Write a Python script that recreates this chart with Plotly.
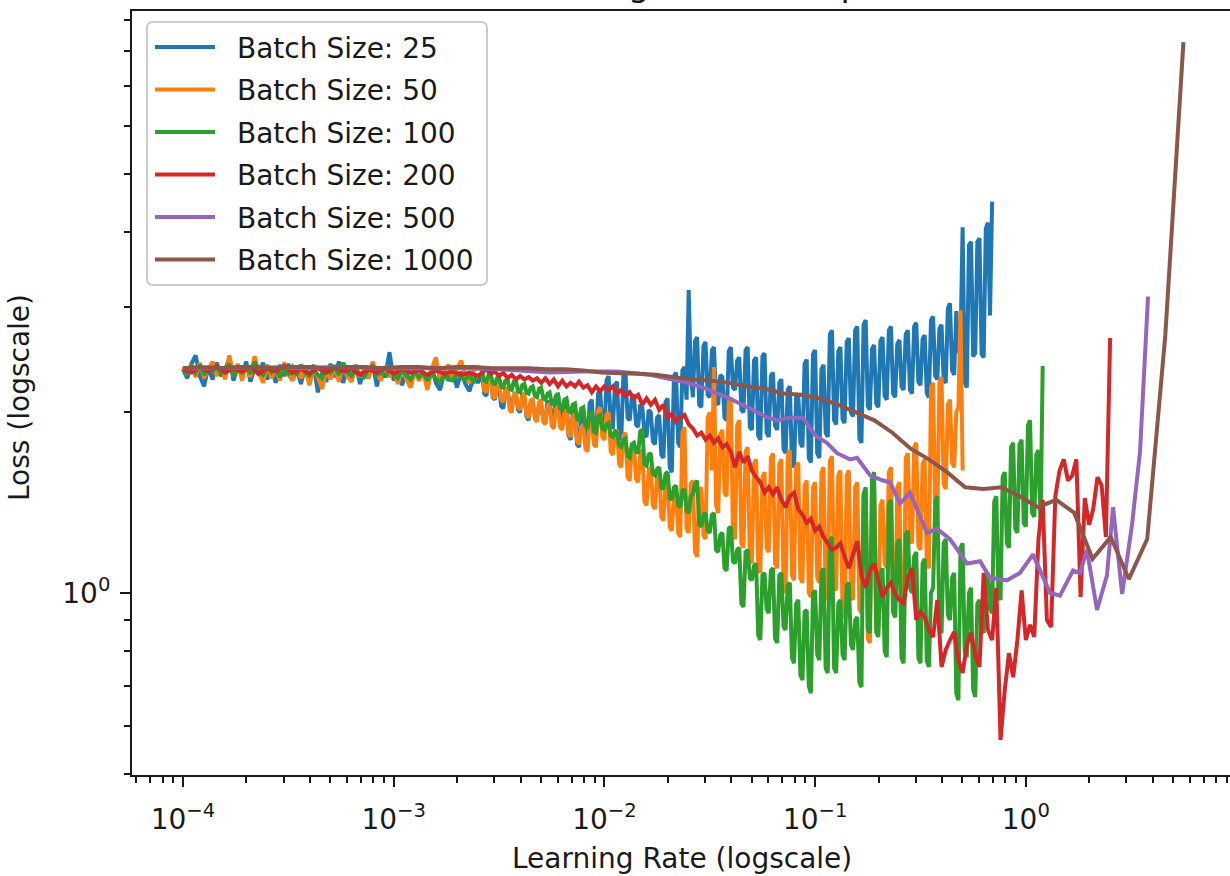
import plotly.graph_objects as go

# ---------------------------------------------------------------------------
# Learning-rate range test: loss recorded while the learning rate is swept
# geometrically, one run per batch size.  Each sample is (log10 lr, loss).
# ---------------------------------------------------------------------------
batch_sizes = [25, 50, 100, 200, 500, 1000]
colors = ["#1f77b4", "#ff7f0e", "#2ca02c", "#d62728", "#9467bd", "#8c564b"]

loss_bs25 = [
    (-4.00, 2.36), (-3.98, 2.28), (-3.96, 2.41), (-3.94, 2.49), (-3.92, 2.30), (-3.90, 2.21), (-3.88, 2.38), (-3.86, 2.27),
    (-3.84, 2.42), (-3.82, 2.30), (-3.80, 2.35), (-3.78, 2.47), (-3.76, 2.26), (-3.74, 2.39), (-3.72, 2.29), (-3.70, 2.43),
    (-3.68, 2.25), (-3.66, 2.37), (-3.64, 2.31), (-3.62, 2.42), (-3.60, 2.27), (-3.58, 2.38), (-3.56, 2.24), (-3.54, 2.40),
    (-3.52, 2.30), (-3.50, 2.41), (-3.48, 2.26), (-3.46, 2.36), (-3.44, 2.23), (-3.42, 2.39), (-3.40, 2.28), (-3.38, 2.40),
    (-3.36, 2.16), (-3.34, 2.33), (-3.32, 2.25), (-3.30, 2.41), (-3.28, 2.29), (-3.26, 2.43), (-3.24, 2.24), (-3.22, 2.37),
    (-3.20, 2.27), (-3.18, 2.40), (-3.16, 2.23), (-3.14, 2.35), (-3.12, 2.28), (-3.10, 2.42), (-3.08, 2.21), (-3.06, 2.36),
    (-3.04, 2.30), (-3.02, 2.52), (-3.00, 2.26), (-2.98, 2.38), (-2.96, 2.22), (-2.94, 2.35), (-2.92, 2.20), (-2.90, 2.37),
    (-2.88, 2.27), (-2.86, 2.34), (-2.84, 2.21), (-2.82, 2.38), (-2.80, 2.24), (-2.78, 2.18), (-2.76, 2.33), (-2.74, 2.26),
    (-2.72, 2.36), (-2.70, 2.20), (-2.68, 2.34), (-2.66, 2.23), (-2.64, 2.17), (-2.62, 2.31), (-2.60, 2.24),
    (-2.58, 2.31), (-2.57, 2.15), (-2.56, 2.13), (-2.55, 2.30), (-2.54, 2.33), (-2.53, 2.12), (-2.52, 2.10), (-2.51, 2.22),
    (-2.50, 2.20), (-2.49, 2.05), (-2.48, 2.03), (-2.47, 2.16), (-2.46, 2.18), (-2.45, 2.07), (-2.44, 2.05), (-2.43, 2.13),
    (-2.42, 2.15), (-2.41, 2.02), (-2.40, 2.00), (-2.39, 2.15), (-2.38, 2.13), (-2.37, 1.97), (-2.36, 1.94), (-2.35, 2.08),
    (-2.34, 2.06), (-2.33, 1.98), (-2.32, 1.96), (-2.31, 2.06), (-2.30, 2.04), (-2.29, 1.95), (-2.28, 1.94), (-2.27, 2.09),
    (-2.26, 2.07), (-2.25, 1.95), (-2.24, 1.96), (-2.23, 2.13), (-2.22, 2.15), (-2.21, 1.93), (-2.20, 1.91), (-2.19, 2.08),
    (-2.18, 2.10), (-2.17, 1.83), (-2.16, 1.80), (-2.15, 2.00), (-2.14, 2.02), (-2.13, 1.77), (-2.12, 1.75), (-2.11, 2.02),
    (-2.10, 2.00), (-2.09, 1.82), (-2.08, 1.80), (-2.07, 2.07), (-2.06, 2.10), (-2.05, 1.84), (-2.04, 1.82), (-2.03, 2.15),
    (-2.02, 2.18), (-2.01, 1.88), (-2.00, 1.86), (-1.99, 2.26), (-1.98, 2.30), (-1.97, 1.90), (-1.96, 1.88), (-1.95, 2.22),
    (-1.94, 2.25), (-1.93, 1.83), (-1.92, 1.80), (-1.91, 2.30), (-1.90, 2.33), (-1.89, 1.96), (-1.88, 1.94), (-1.87, 2.12),
    (-1.86, 2.14), (-1.85, 1.91), (-1.84, 1.89), (-1.83, 2.06), (-1.82, 2.04), (-1.81, 1.84), (-1.80, 1.82), (-1.79, 2.02),
    (-1.78, 2.00), (-1.77, 1.79), (-1.76, 1.77), (-1.75, 1.96), (-1.74, 1.98), (-1.73, 1.70), (-1.72, 1.68), (-1.71, 2.08),
    (-1.70, 2.11), (-1.69, 1.62), (-1.68, 1.59), (-1.67, 2.30), (-1.66, 2.33), (-1.65, 1.78), (-1.64, 1.75), (-1.63, 2.35),
    (-1.62, 2.38), (-1.61, 2.10), (-1.60, 3.20), (-1.59, 2.30), (-1.58, 2.12), (-1.57, 2.63), (-1.56, 2.67), (-1.55, 2.06),
    (-1.54, 2.04), (-1.53, 2.58), (-1.52, 2.62), (-1.51, 2.14), (-1.50, 2.12), (-1.49, 2.54), (-1.48, 2.57), (-1.47, 2.08),
    (-1.46, 2.06), (-1.45, 2.31), (-1.44, 2.29), (-1.43, 1.96), (-1.42, 1.94), (-1.41, 2.53), (-1.40, 2.57), (-1.39, 2.20),
    (-1.38, 2.18), (-1.37, 2.44), (-1.36, 2.47), (-1.35, 2.02), (-1.34, 2.00), (-1.33, 2.54), (-1.32, 2.57), (-1.31, 1.89),
    (-1.30, 1.87), (-1.29, 2.44), (-1.28, 2.47), (-1.27, 1.83), (-1.26, 1.80), (-1.25, 2.48), (-1.24, 2.51), (-1.23, 1.85),
    (-1.22, 1.82), (-1.21, 2.30), (-1.20, 2.33), (-1.19, 1.90), (-1.18, 1.87), (-1.17, 2.24), (-1.16, 2.27), (-1.15, 1.74),
    (-1.14, 1.71), (-1.13, 2.18), (-1.12, 2.21), (-1.11, 1.65), (-1.10, 1.62), (-1.09, 2.12), (-1.08, 2.15), (-1.07, 1.78),
    (-1.06, 1.75), (-1.05, 2.41), (-1.04, 2.45), (-1.03, 1.68), (-1.02, 1.65), (-1.01, 2.50), (-1.00, 2.54), (-0.99, 1.71),
    (-0.98, 1.68), (-0.97, 2.36), (-0.96, 2.40), (-0.95, 1.85), (-0.94, 1.82), (-0.93, 2.70), (-0.92, 2.74), (-0.91, 1.94),
    (-0.90, 1.91), (-0.89, 2.53), (-0.88, 2.57), (-0.87, 1.95), (-0.86, 1.92), (-0.85, 2.62), (-0.84, 2.66), (-0.83, 2.00),
    (-0.82, 1.97), (-0.81, 2.74), (-0.80, 2.78), (-0.79, 1.81), (-0.78, 1.78), (-0.77, 2.80), (-0.76, 2.85), (-0.75, 2.05),
    (-0.74, 2.02), (-0.73, 2.55), (-0.72, 2.59), (-0.71, 2.07), (-0.70, 2.04), (-0.69, 2.63), (-0.68, 2.67), (-0.67, 2.13),
    (-0.66, 2.10), (-0.65, 2.74), (-0.64, 2.78), (-0.63, 2.15), (-0.62, 2.12), (-0.61, 2.60), (-0.60, 2.64), (-0.59, 2.21),
    (-0.58, 2.18), (-0.57, 2.70), (-0.56, 2.74), (-0.55, 2.18), (-0.54, 2.15), (-0.53, 2.78), (-0.52, 2.82), (-0.51, 2.25),
    (-0.50, 2.22), (-0.49, 2.65), (-0.48, 2.69), (-0.47, 2.15), (-0.46, 2.12), (-0.45, 2.85), (-0.44, 2.89), (-0.43, 2.30),
    (-0.42, 2.27), (-0.41, 2.76), (-0.40, 2.80), (-0.39, 2.27), (-0.38, 2.24), (-0.37, 2.98), (-0.36, 3.04), (-0.35, 2.35),
    (-0.34, 2.31), (-0.33, 2.95), (-0.32, 2.51), (-0.31, 2.60), (-0.30, 4.07), (-0.29, 2.25), (-0.28, 2.20), (-0.27, 3.80),
    (-0.26, 3.85), (-0.25, 2.48), (-0.24, 2.51), (-0.23, 3.85), (-0.22, 3.90), (-0.21, 2.50), (-0.20, 2.47), (-0.19, 4.05),
    (-0.18, 4.14), (-0.17, 2.90), (-0.16, 4.49),
]

loss_bs50 = [
    (-4.00, 2.38), (-3.98, 2.31), (-3.96, 2.40), (-3.94, 2.29), (-3.92, 2.42), (-3.90, 2.28), (-3.88, 2.36), (-3.86, 2.43),
    (-3.84, 2.30), (-3.82, 2.38), (-3.80, 2.27), (-3.78, 2.49), (-3.76, 2.30), (-3.74, 2.41), (-3.72, 2.26), (-3.70, 2.39),
    (-3.68, 2.29), (-3.66, 2.48), (-3.64, 2.33), (-3.62, 2.24), (-3.60, 2.40), (-3.58, 2.28), (-3.56, 2.37), (-3.54, 2.26),
    (-3.52, 2.42), (-3.50, 2.31), (-3.48, 2.26), (-3.46, 2.39), (-3.44, 2.28), (-3.42, 2.36), (-3.40, 2.22), (-3.38, 2.37),
    (-3.36, 2.29), (-3.34, 2.19), (-3.32, 2.35), (-3.30, 2.27), (-3.28, 2.38), (-3.26, 2.25), (-3.24, 2.41), (-3.22, 2.30),
    (-3.20, 2.25), (-3.18, 2.38), (-3.16, 2.29), (-3.14, 2.36), (-3.12, 2.28), (-3.10, 2.43), (-3.08, 2.31), (-3.06, 2.26),
    (-3.04, 2.39), (-3.02, 2.29), (-3.00, 2.35), (-2.98, 2.23), (-2.96, 2.37), (-2.94, 2.27), (-2.92, 2.20), (-2.90, 2.34),
    (-2.88, 2.26), (-2.86, 2.33), (-2.84, 2.18), (-2.82, 2.36), (-2.80, 2.47), (-2.78, 2.25), (-2.76, 2.34), (-2.74, 2.40),
    (-2.72, 2.27), (-2.70, 2.36), (-2.68, 2.44), (-2.66, 2.30), (-2.64, 2.24), (-2.62, 2.35), (-2.60, 2.38),
    (-2.58, 2.35), (-2.57, 2.18), (-2.56, 2.16), (-2.55, 2.29), (-2.54, 2.31), (-2.53, 2.13), (-2.52, 2.11), (-2.51, 2.23),
    (-2.50, 2.25), (-2.49, 2.10), (-2.48, 2.08), (-2.47, 2.18), (-2.46, 2.20), (-2.45, 2.02), (-2.44, 2.00), (-2.43, 2.14),
    (-2.42, 2.16), (-2.41, 2.04), (-2.40, 2.02), (-2.39, 2.13), (-2.38, 2.15), (-2.37, 1.98), (-2.36, 1.96), (-2.35, 2.09),
    (-2.34, 2.11), (-2.33, 1.95), (-2.32, 1.93), (-2.31, 2.08), (-2.30, 2.10), (-2.29, 1.93), (-2.28, 1.91), (-2.27, 2.05),
    (-2.26, 2.07), (-2.25, 1.90), (-2.24, 1.88), (-2.23, 2.03), (-2.22, 2.05), (-2.21, 1.89), (-2.20, 1.87), (-2.19, 2.00),
    (-2.18, 2.02), (-2.17, 1.84), (-2.16, 1.82), (-2.15, 1.97), (-2.14, 1.99), (-2.13, 1.79), (-2.12, 1.77), (-2.11, 1.89),
    (-2.10, 1.91), (-2.09, 1.74), (-2.08, 1.72), (-2.07, 1.94), (-2.06, 1.96), (-2.05, 1.77), (-2.04, 1.75), (-2.03, 2.01),
    (-2.02, 2.04), (-2.01, 1.82), (-2.00, 1.80), (-1.99, 1.98), (-1.98, 2.00), (-1.97, 1.72), (-1.96, 1.70), (-1.95, 1.85),
    (-1.94, 1.87), (-1.93, 1.64), (-1.92, 1.62), (-1.91, 1.83), (-1.90, 1.85), (-1.89, 1.56), (-1.88, 1.54), (-1.87, 1.75),
    (-1.86, 1.77), (-1.85, 1.55), (-1.84, 1.53), (-1.83, 1.71), (-1.82, 1.73), (-1.81, 1.42), (-1.80, 1.40), (-1.79, 1.60),
    (-1.78, 1.62), (-1.77, 1.40), (-1.76, 1.38), (-1.75, 1.58), (-1.74, 1.60), (-1.73, 1.34), (-1.72, 1.32), (-1.71, 1.52),
    (-1.70, 1.54), (-1.69, 1.29), (-1.68, 1.27), (-1.67, 1.45), (-1.66, 1.47), (-1.65, 1.26), (-1.64, 1.24), (-1.63, 1.85),
    (-1.62, 1.89), (-1.61, 1.28), (-1.60, 1.26), (-1.59, 1.52), (-1.58, 1.54), (-1.57, 1.17), (-1.56, 1.15), (-1.55, 1.48),
    (-1.54, 1.50), (-1.53, 1.25), (-1.52, 1.23), (-1.51, 1.96), (-1.50, 2.00), (-1.49, 1.60), (-1.48, 2.38), (-1.47, 1.40),
    (-1.46, 1.36), (-1.45, 1.84), (-1.44, 1.87), (-1.43, 1.47), (-1.42, 1.45), (-1.41, 2.08), (-1.40, 2.12), (-1.39, 1.25),
    (-1.38, 1.23), (-1.37, 1.90), (-1.36, 1.94), (-1.35, 1.21), (-1.34, 1.19), (-1.33, 1.72), (-1.32, 1.75), (-1.31, 1.14),
    (-1.30, 1.12), (-1.29, 1.64), (-1.28, 1.67), (-1.27, 1.10), (-1.26, 1.08), (-1.25, 1.56), (-1.24, 1.59), (-1.23, 1.19),
    (-1.22, 1.17), (-1.21, 1.68), (-1.20, 1.71), (-1.19, 1.12), (-1.18, 1.10), (-1.17, 1.64), (-1.16, 1.67), (-1.15, 1.02),
    (-1.14, 1.00), (-1.13, 1.70), (-1.12, 1.73), (-1.11, 1.07), (-1.10, 1.05), (-1.09, 1.62), (-1.08, 1.65), (-1.07, 1.06),
    (-1.06, 1.04), (-1.05, 1.51), (-1.04, 1.54), (-1.03, 1.00), (-1.02, 0.985), (-1.01, 1.50), (-1.00, 1.53), (-0.99, 1.06),
    (-0.98, 1.04), (-0.97, 1.59), (-0.96, 1.62), (-0.95, 0.990), (-0.94, 0.974), (-0.93, 1.66), (-0.92, 1.69), (-0.91, 1.03),
    (-0.90, 1.01), (-0.89, 1.57), (-0.88, 1.60), (-0.87, 0.930), (-0.86, 0.910), (-0.85, 1.57), (-0.84, 1.60), (-0.83, 0.990),
    (-0.82, 0.974), (-0.81, 1.50), (-0.80, 1.53), (-0.79, 0.940), (-0.78, 0.926), (-0.77, 1.46), (-0.76, 1.49), (-0.75, 0.840),
    (-0.74, 0.826), (-0.73, 1.46), (-0.72, 1.49), (-0.71, 0.880), (-0.70, 0.868), (-0.69, 1.40), (-0.68, 1.43), (-0.67, 1.12),
    (-0.66, 1.10), (-0.65, 1.59), (-0.64, 1.62), (-0.63, 0.930), (-0.62, 0.910), (-0.61, 1.50), (-0.60, 1.53), (-0.59, 0.830),
    (-0.58, 0.810), (-0.57, 1.68), (-0.56, 1.71), (-0.55, 1.23), (-0.54, 1.21), (-0.53, 1.75), (-0.52, 1.78), (-0.51, 1.20),
    (-0.50, 1.18), (-0.49, 1.64), (-0.48, 1.67), (-0.47, 1.12), (-0.46, 1.10), (-0.45, 2.20), (-0.44, 2.24), (-0.43, 1.36),
    (-0.42, 1.34), (-0.41, 2.25), (-0.40, 2.29), (-0.39, 1.52), (-0.38, 1.49), (-0.37, 2.06), (-0.36, 2.10), (-0.35, 1.65),
    (-0.34, 1.62), (-0.33, 2.00), (-0.32, 2.04), (-0.31, 2.96), (-0.30, 1.60),
]

loss_bs100 = [
    (-4.00, 2.36), (-3.98, 2.32), (-3.96, 2.39), (-3.94, 2.33), (-3.92, 2.40), (-3.90, 2.31), (-3.88, 2.37), (-3.86, 2.34),
    (-3.84, 2.39), (-3.82, 2.32), (-3.80, 2.36), (-3.78, 2.41), (-3.76, 2.30), (-3.74, 2.37), (-3.72, 2.33), (-3.70, 2.38),
    (-3.68, 2.32), (-3.66, 2.43), (-3.64, 2.34), (-3.62, 2.31), (-3.60, 2.38), (-3.58, 2.33), (-3.56, 2.37), (-3.54, 2.29),
    (-3.52, 2.36), (-3.50, 2.32), (-3.48, 2.38), (-3.46, 2.31), (-3.44, 2.40), (-3.42, 2.33), (-3.40, 2.30), (-3.38, 2.36),
    (-3.36, 2.31), (-3.34, 2.28), (-3.32, 2.37), (-3.30, 2.33), (-3.28, 2.38), (-3.26, 2.31), (-3.24, 2.42), (-3.22, 2.33),
    (-3.20, 2.30), (-3.18, 2.36), (-3.16, 2.32), (-3.14, 2.29), (-3.12, 2.36), (-3.10, 2.39), (-3.08, 2.31), (-3.06, 2.35),
    (-3.04, 2.29), (-3.02, 2.37), (-3.00, 2.31), (-2.98, 2.28), (-2.96, 2.35), (-2.94, 2.30), (-2.92, 2.27), (-2.90, 2.34),
    (-2.88, 2.29), (-2.86, 2.33), (-2.84, 2.26), (-2.82, 2.32), (-2.80, 2.28), (-2.78, 2.24), (-2.76, 2.31), (-2.74, 2.27),
    (-2.72, 2.26), (-2.70, 2.32), (-2.68, 2.28), (-2.66, 2.27), (-2.64, 2.31), (-2.62, 2.25), (-2.60, 2.30),
    (-2.58, 2.33), (-2.57, 2.26), (-2.56, 2.25), (-2.55, 2.31), (-2.54, 2.32), (-2.53, 2.24), (-2.52, 2.23), (-2.51, 2.28),
    (-2.50, 2.29), (-2.49, 2.21), (-2.48, 2.20), (-2.47, 2.26), (-2.46, 2.27), (-2.45, 2.19), (-2.44, 2.18), (-2.43, 2.25),
    (-2.42, 2.26), (-2.41, 2.17), (-2.40, 2.16), (-2.39, 2.22), (-2.38, 2.23), (-2.37, 2.16), (-2.36, 2.15), (-2.35, 2.20),
    (-2.34, 2.21), (-2.33, 2.13), (-2.32, 2.12), (-2.31, 2.19), (-2.30, 2.20), (-2.29, 2.11), (-2.28, 2.10), (-2.27, 2.15),
    (-2.26, 2.16), (-2.25, 2.07), (-2.24, 2.06), (-2.23, 2.13), (-2.22, 2.14), (-2.21, 2.03), (-2.20, 2.02), (-2.19, 2.10),
    (-2.18, 2.11), (-2.17, 2.01), (-2.16, 2.00), (-2.15, 2.06), (-2.14, 2.07), (-2.13, 1.95), (-2.12, 1.94), (-2.11, 2.03),
    (-2.10, 2.04), (-2.09, 1.90), (-2.08, 1.89), (-2.07, 1.99), (-2.06, 2.00), (-2.05, 1.86), (-2.04, 1.85), (-2.03, 1.97),
    (-2.02, 1.98), (-2.01, 1.88), (-2.00, 1.87), (-1.99, 1.91), (-1.98, 1.92), (-1.97, 1.83), (-1.96, 1.82), (-1.95, 1.86),
    (-1.94, 1.85), (-1.93, 1.76), (-1.92, 1.75), (-1.91, 1.80), (-1.90, 1.81), (-1.89, 1.69), (-1.88, 1.68), (-1.87, 1.77),
    (-1.86, 1.78), (-1.85, 1.72), (-1.84, 1.71), (-1.83, 1.86), (-1.82, 1.87), (-1.81, 1.64), (-1.80, 1.63), (-1.79, 1.70),
    (-1.78, 1.71), (-1.77, 1.58), (-1.76, 1.57), (-1.75, 1.61), (-1.74, 1.62), (-1.73, 1.50), (-1.72, 1.49), (-1.71, 1.58),
    (-1.70, 1.59), (-1.69, 1.44), (-1.68, 1.43), (-1.67, 1.50), (-1.66, 1.51), (-1.65, 1.40), (-1.64, 1.39), (-1.63, 1.48),
    (-1.62, 1.49), (-1.61, 1.37), (-1.60, 1.36), (-1.59, 1.45), (-1.58, 1.46), (-1.57, 1.52), (-1.56, 1.54), (-1.55, 1.30),
    (-1.54, 1.29), (-1.53, 1.35), (-1.52, 1.36), (-1.51, 1.27), (-1.50, 1.26), (-1.49, 1.35), (-1.48, 1.36), (-1.47, 1.18),
    (-1.46, 1.17), (-1.45, 1.25), (-1.44, 1.26), (-1.43, 1.10), (-1.42, 1.09), (-1.41, 1.28), (-1.40, 1.29), (-1.39, 1.13),
    (-1.38, 1.12), (-1.37, 1.18), (-1.36, 1.19), (-1.35, 0.960), (-1.34, 0.948), (-1.33, 1.17), (-1.32, 1.18), (-1.31, 1.06),
    (-1.30, 1.05), (-1.29, 1.11), (-1.28, 1.12), (-1.27, 0.850), (-1.26, 0.835), (-1.25, 1.07), (-1.24, 1.08), (-1.23, 0.940),
    (-1.22, 0.926), (-1.21, 1.09), (-1.20, 1.10), (-1.19, 0.840), (-1.18, 0.826), (-1.17, 1.07), (-1.16, 1.08), (-1.15, 0.880),
    (-1.14, 0.868), (-1.13, 1.03), (-1.12, 1.04), (-1.11, 0.780), (-1.10, 0.764), (-1.09, 0.960), (-1.08, 0.974), (-1.07, 0.730),
    (-1.06, 0.716), (-1.05, 0.930), (-1.04, 0.937), (-1.03, 0.700), (-1.02, 0.681), (-1.01, 1.00), (-1.00, 1.01), (-0.99, 0.790),
    (-0.98, 0.773), (-0.97, 1.08), (-0.96, 1.10), (-0.95, 0.750), (-0.94, 0.736), (-0.93, 1.22), (-0.92, 1.24), (-0.91, 0.750),
    (-0.90, 0.736), (-0.89, 0.960), (-0.88, 0.974), (-0.87, 0.790), (-0.86, 0.773), (-0.85, 1.03), (-0.84, 1.04), (-0.83, 0.820),
    (-0.82, 0.804), (-0.81, 0.900), (-0.80, 0.912), (-0.79, 0.710), (-0.78, 0.697), (-0.77, 1.46), (-0.76, 1.50), (-0.75, 0.870),
    (-0.74, 0.858), (-0.73, 1.55), (-0.72, 1.59), (-0.71, 0.860), (-0.70, 0.845), (-0.69, 1.08), (-0.68, 1.10), (-0.67, 0.800),
    (-0.66, 0.782), (-0.65, 1.40), (-0.64, 1.43), (-0.63, 0.930), (-0.62, 0.912), (-0.61, 1.21), (-0.60, 1.23), (-0.59, 0.780),
    (-0.58, 0.764), (-0.57, 1.25), (-0.56, 1.27), (-0.55, 1.02), (-0.54, 1.00), (-0.53, 1.15), (-0.52, 1.17), (-0.51, 0.780),
    (-0.50, 0.764), (-0.49, 1.12), (-0.48, 1.14), (-0.47, 0.770), (-0.46, 0.753), (-0.45, 1.00), (-0.44, 1.02), (-0.43, 1.42),
    (-0.42, 1.45), (-0.41, 0.870), (-0.40, 0.858), (-0.39, 1.21), (-0.38, 1.23), (-0.37, 0.920), (-0.36, 0.902), (-0.35, 1.06),
    (-0.34, 1.08), (-0.33, 0.680), (-0.32, 0.663), (-0.31, 1.19), (-0.30, 1.21), (-0.29, 0.800), (-0.28, 0.782), (-0.27, 1.00),
    (-0.26, 1.02), (-0.25, 0.690), (-0.24, 0.671), (-0.23, 0.960), (-0.22, 0.974), (-0.21, 0.870), (-0.20, 0.858), (-0.19, 1.06),
    (-0.18, 1.08), (-0.17, 0.940), (-0.16, 0.926), (-0.15, 1.42), (-0.14, 1.45), (-0.13, 0.990), (-0.12, 0.974), (-0.11, 1.56),
    (-0.10, 1.59), (-0.09, 1.21), (-0.08, 1.19), (-0.07, 1.75), (-0.06, 1.78), (-0.05, 1.28), (-0.04, 1.26), (-0.03, 1.77),
    (-0.02, 1.80), (-0.01, 1.31), (0.00, 1.29), (0.01, 1.90), (0.02, 1.94), (0.03, 1.36), (0.04, 1.34), (0.05, 1.70),
    (0.06, 1.73), (0.07, 1.29), (0.08, 2.39),
]

loss_bs200 = [
    (-4.00, 2.36), (-3.96, 2.33), (-3.92, 2.38), (-3.88, 2.34), (-3.84, 2.39), (-3.80, 2.33), (-3.76, 2.37), (-3.72, 2.34),
    (-3.68, 2.38), (-3.64, 2.32), (-3.60, 2.37), (-3.56, 2.34), (-3.52, 2.39), (-3.48, 2.33), (-3.44, 2.36), (-3.40, 2.32),
    (-3.36, 2.37), (-3.32, 2.33), (-3.28, 2.38), (-3.24, 2.34), (-3.20, 2.36), (-3.16, 2.31), (-3.12, 2.36), (-3.08, 2.33),
    (-3.04, 2.37), (-3.00, 2.32), (-2.96, 2.36), (-2.92, 2.33), (-2.88, 2.35), (-2.84, 2.31), (-2.80, 2.35), (-2.76, 2.32),
    (-2.72, 2.34), (-2.68, 2.31), (-2.64, 2.33), (-2.60, 2.30),
    (-2.58, 2.33), (-2.56, 2.36), (-2.54, 2.32), (-2.52, 2.34), (-2.50, 2.30), (-2.48, 2.33), (-2.46, 2.28), (-2.44, 2.31),
    (-2.42, 2.27), (-2.40, 2.30), (-2.38, 2.27), (-2.36, 2.29), (-2.34, 2.26), (-2.32, 2.28), (-2.30, 2.24), (-2.28, 2.28),
    (-2.26, 2.23), (-2.24, 2.27), (-2.22, 2.21), (-2.20, 2.26), (-2.18, 2.21), (-2.16, 2.24), (-2.14, 2.21), (-2.12, 2.25),
    (-2.10, 2.20), (-2.08, 2.22), (-2.06, 2.16), (-2.04, 2.21), (-2.02, 2.17), (-2.00, 2.21), (-1.98, 2.18), (-1.96, 2.21),
    (-1.94, 2.15), (-1.92, 2.18), (-1.90, 2.13), (-1.88, 2.16), (-1.86, 2.11), (-1.84, 2.14), (-1.82, 2.06), (-1.80, 2.11),
    (-1.78, 2.06), (-1.76, 2.10), (-1.74, 2.02), (-1.72, 2.06), (-1.70, 1.96), (-1.68, 1.99), (-1.66, 1.93), (-1.64, 1.96),
    (-1.62, 1.98), (-1.60, 1.91), (-1.58, 1.88), (-1.56, 1.83), (-1.54, 1.85), (-1.52, 1.80), (-1.50, 1.83), (-1.48, 1.78),
    (-1.46, 1.81), (-1.44, 1.75), (-1.42, 1.77), (-1.40, 1.72), (-1.38, 1.62), (-1.36, 1.72), (-1.34, 1.65), (-1.32, 1.69),
    (-1.30, 1.60), (-1.28, 1.56), (-1.26, 1.53), (-1.24, 1.47), (-1.22, 1.50), (-1.20, 1.46), (-1.18, 1.50), (-1.16, 1.43),
    (-1.14, 1.39), (-1.12, 1.45), (-1.10, 1.47), (-1.08, 1.38), (-1.06, 1.35), (-1.04, 1.31), (-1.02, 1.33), (-1.00, 1.27),
    (-0.98, 1.29), (-0.96, 1.24), (-0.94, 1.21), (-0.92, 1.18), (-0.90, 1.19), (-0.88, 1.21), (-0.86, 1.15), (-0.84, 1.10),
    (-0.82, 1.16), (-0.80, 1.22), (-0.78, 1.07), (-0.76, 1.02), (-0.74, 1.09), (-0.72, 1.12), (-0.70, 1.05), (-0.68, 0.985),
    (-0.66, 1.02), (-0.64, 1.04), (-0.62, 0.996), (-0.60, 0.974), (-0.58, 0.962), (-0.56, 1.06), (-0.54, 1.10), (-0.52, 0.902),
    (-0.50, 0.930), (-0.48, 0.912), (-0.46, 0.868), (-0.44, 0.845), (-0.42, 0.974), (-0.40, 0.753), (-0.38, 0.804), (-0.36, 0.835),
    (-0.34, 0.861), (-0.32, 0.773), (-0.30, 0.736), (-0.28, 0.819), (-0.26, 0.858), (-0.24, 0.788), (-0.22, 0.753), (-0.20, 1.08),
    (-0.18, 0.868), (-0.16, 0.835), (-0.14, 1.02), (-0.12, 0.569), (-0.10, 0.689), (-0.08, 0.794), (-0.06, 0.724), (-0.04, 0.835),
    (-0.02, 1.01), (0.00, 0.835), (0.02, 0.885), (0.04, 0.845), (0.06, 1.23), (0.08, 1.43), (0.10, 0.902), (0.12, 0.878),
    (0.14, 1.45), (0.16, 1.60), (0.18, 1.67), (0.20, 1.54), (0.22, 1.57), (0.24, 1.67), (0.26, 0.985), (0.28, 1.44),
    (0.30, 1.30), (0.32, 1.38), (0.34, 1.56), (0.36, 1.51), (0.38, 1.24), (0.40, 2.66),
]

loss_bs500 = [
    (-4.000, 2.37), (-3.824, 2.37), (-3.634, 2.38), (-3.444, 2.37), (-3.255, 2.38), (-3.065, 2.37),
    (-2.875, 2.37), (-2.685, 2.37), (-2.496, 2.36), (-2.258, 2.33), (-2.102, 2.34), (-1.940, 2.34),
    (-1.784, 2.31), (-1.627, 2.25), (-1.532, 2.20), (-1.418, 2.12), (-1.309, 2.03), (-1.238, 1.97),
    (-1.181, 1.94), (-1.119, 1.96), (-1.057, 1.96), (-1.024, 1.88), (-0.991, 1.82), (-0.944, 1.78),
    (-0.896, 1.71), (-0.834, 1.67), (-0.801, 1.68), (-0.739, 1.57), (-0.678, 1.54), (-0.645, 1.53),
    (-0.597, 1.41), (-0.550, 1.47), (-0.469, 1.26), (-0.421, 1.28), (-0.360, 1.23), (-0.279, 1.12),
    (-0.217, 1.13), (-0.170, 1.06), (-0.089, 1.05), (-0.028, 1.08), (0.034, 1.16), (0.115, 1.00),
    (0.162, 0.99), (0.224, 1.09), (0.257, 1.08), (0.290, 1.18), (0.338, 0.937), (0.385, 1.07),
    (0.414, 1.39), (0.457, 0.996), (0.504, 1.30), (0.542, 1.72), (0.580, 3.12),
]

loss_bs1000 = [
    (-4.000, 2.37), (-3.914, 2.38), (-3.827, 2.37), (-3.741, 2.38), (-3.655, 2.38), (-3.568, 2.37),
    (-3.482, 2.38), (-3.396, 2.38), (-3.309, 2.37), (-3.223, 2.38), (-3.137, 2.38), (-3.050, 2.37),
    (-2.964, 2.38), (-2.878, 2.38), (-2.791, 2.37), (-2.705, 2.38), (-2.619, 2.38), (-2.532, 2.37),
    (-2.446, 2.37), (-2.360, 2.37), (-2.273, 2.36), (-2.187, 2.36), (-2.101, 2.35), (-2.014, 2.33),
    (-1.928, 2.325), (-1.842, 2.32), (-1.755, 2.31), (-1.669, 2.29), (-1.583, 2.27), (-1.496, 2.26),
    (-1.410, 2.24), (-1.324, 2.21), (-1.237, 2.19), (-1.151, 2.15), (-1.065, 2.14), (-0.978, 2.11),
    (-0.892, 2.06), (-0.806, 2.00), (-0.719, 1.94), (-0.633, 1.85), (-0.547, 1.74), (-0.460, 1.67),
    (-0.374, 1.59), (-0.288, 1.50), (-0.201, 1.49), (-0.115, 1.50), (-0.029, 1.45), (0.058, 1.39),
    (0.144, 1.43), (0.230, 1.36), (0.317, 1.14), (0.403, 1.24), (0.489, 1.055), (0.576, 1.23),
    (0.662, 2.69), (0.748, 8.28),
]

runs = [loss_bs25, loss_bs50, loss_bs100, loss_bs200, loss_bs500, loss_bs1000]

x_major = [1e-4, 1e-3, 1e-2, 1e-1, 1e0]
x_major_text = ["10<sup>\u22124</sup>", "10<sup>\u22123</sup>", "10<sup>\u22122</sup>",
                "10<sup>\u22121</sup>", "10<sup>0</sup>"]
y_major = [1e0]
y_major_text = ["10<sup>0</sup>"]

# ---------------------------------------------------------------------------
# Canvas geometry (pixels) and axis ranges (log10 units)
# ---------------------------------------------------------------------------
W, H = 1230, 876
PL, PR, PT, PB = 132, 1230, 11, 775
X_RANGE = [-4.242, 0.969]
Y_RANGE = [-0.3033, 0.970]
FONT = "DejaVu Sans"
INK = "#1a1a1a"


def fx(px):
    return (px - PL) / (PR - PL)


def fy(py):
    return (PB - py) / (PB - PT)


fig = go.Figure()
for bs, color, pts in zip(batch_sizes, colors, runs):
    fig.add_trace(go.Scatter(
        x=[10 ** e for e, _ in pts],
        y=[v for _, v in pts],
        mode="lines",
        line=dict(color=color, width=4, simplify=False),
        name=f"Batch Size: {bs}",
        showlegend=False,
        hoverinfo="x+y+name",
    ))

x_minor = [m * 10.0 ** k for k in range(-5, 1) for m in range(2, 10)]
y_minor = [m / 10 for m in range(5, 10)] + [float(m) for m in range(2, 10)]

axis_common = dict(
    type="log", showline=True, linecolor=INK, linewidth=2, showgrid=False, zeroline=False,
    ticks="outside", ticklen=10, tickwidth=2, tickcolor=INK,
    tickfont=dict(family=FONT, size=28, color=INK),
)
fig.update_xaxes(
    range=X_RANGE, mirror=True, tickmode="array", tickvals=x_major, ticktext=x_major_text,
    ticklabelstandoff=8,
    minor=dict(tickmode="array", tickvals=x_minor, ticks="outside", ticklen=6,
               tickwidth=1.6, tickcolor=INK, showgrid=False),
    **axis_common,
)
fig.update_yaxes(
    range=Y_RANGE, tickmode="array", tickvals=y_major, ticktext=y_major_text,
    ticklabelstandoff=4,
    minor=dict(tickmode="array", tickvals=y_minor, ticks="outside", ticklen=6,
               tickwidth=1.6, tickcolor=INK, showgrid=False),
    **axis_common,
)

# Legend frame with rounded corners, drawn in the upper-left of the axes
bx0, by0, bx1, by1, rad = 147, 22, 487, 285, 6


def P(px, py):
    return f"{fx(px):.5f},{fy(py):.5f}"


frame = (f"M {P(bx0 + rad, by0)} L {P(bx1 - rad, by0)} Q {P(bx1, by0)} {P(bx1, by0 + rad)} "
         f"L {P(bx1, by1 - rad)} Q {P(bx1, by1)} {P(bx1 - rad, by1)} "
         f"L {P(bx0 + rad, by1)} Q {P(bx0, by1)} {P(bx0, by1 - rad)} "
         f"L {P(bx0, by0 + rad)} Q {P(bx0, by0)} {P(bx0 + rad, by0)} Z")
shapes = [dict(type="path", xref="paper", yref="paper", path=frame,
               fillcolor="rgba(255,255,255,0.8)", line=dict(color="#cccccc", width=2),
               layer="above")]
annotations = []
row_y = [47, 89.5, 132, 174.5, 217, 259.5]
for bs, color, ry in zip(batch_sizes, colors, row_y):
    shapes.append(dict(type="line", xref="paper", yref="paper",
                       x0=fx(155), x1=fx(215), y0=fy(ry), y1=fy(ry),
                       line=dict(color=color, width=4), layer="above"))
    annotations.append(dict(xref="paper", yref="paper", x=fx(235), y=fy(ry + 1),
                            xanchor="left", yanchor="middle", showarrow=False,
                            text=f"Batch Size: {bs}",
                            font=dict(family=FONT, size=28, color=INK)))

# Axis labels and the title above the axes
annotations += [
    dict(xref="paper", yref="paper", x=fx(682), y=fy(858), xanchor="center", yanchor="middle",
         showarrow=False, text="Learning Rate (logscale)", font=dict(family=FONT, size=28, color=INK)),
    dict(xref="paper", yref="paper", x=fx(20), y=fy(397), xanchor="center", yanchor="middle",
         textangle=-90, showarrow=False, text="Loss (logscale)",
         font=dict(family=FONT, size=28, color=INK)),
    dict(xref="paper", yref="paper", x=fx(682), y=fy(-16), xanchor="center", yanchor="middle",
         showarrow=False, text="Learning Rate Sweep", font=dict(family=FONT, size=34, color=INK)),
]

fig.update_layout(
    width=W, height=H, autosize=False,
    margin=dict(l=PL, r=W - PR, t=PT, b=H - PB, pad=0),
    paper_bgcolor="white", plot_bgcolor="white",
    font=dict(family=FONT, size=28, color=INK),
    shapes=shapes, annotations=annotations,
    showlegend=False,
)

fig.write_html("out.html")
